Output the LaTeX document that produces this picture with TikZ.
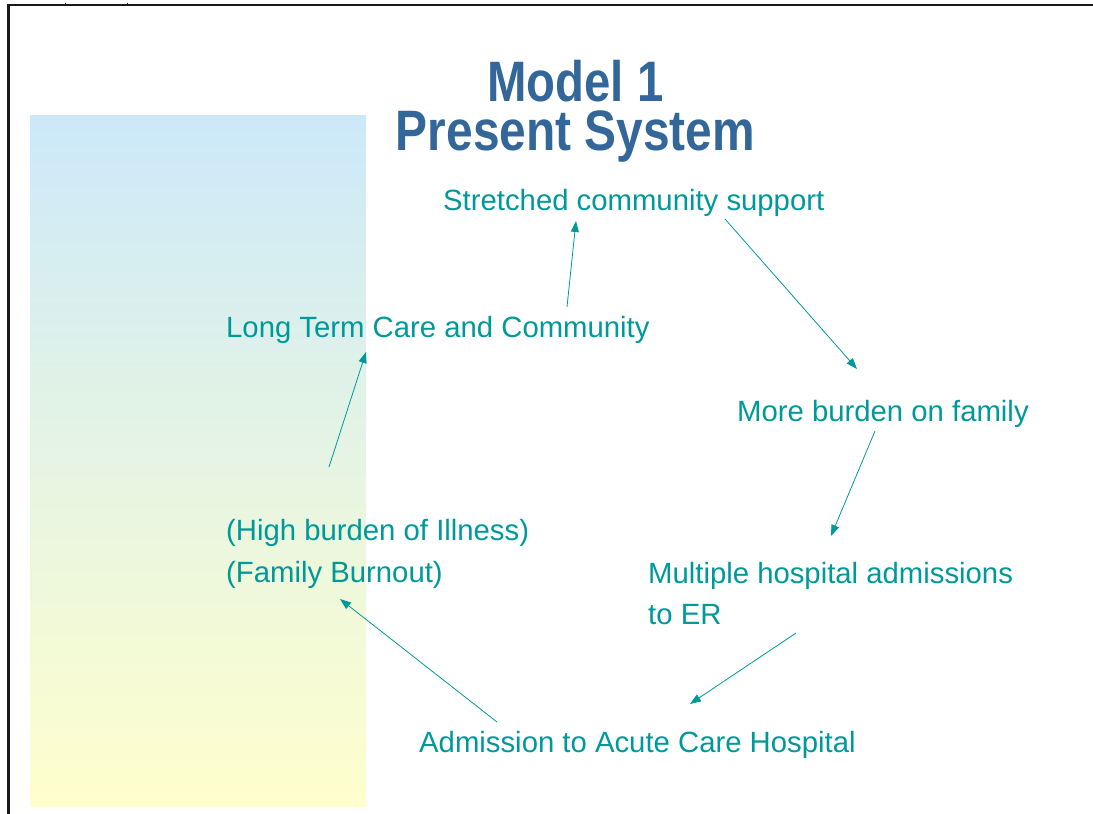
\documentclass[tikz,border=0pt]{standalone}
\usepackage{fontspec}
\usepackage{graphicx}
\setmainfont{Liberation Sans}
\usetikzlibrary{arrows.meta}

\definecolor{flowteal}{RGB}{0,153,153}
\definecolor{titleblue}{RGB}{51,102,153}
\definecolor{panelblue}{RGB}{204,233,250}
\definecolor{panelyellow}{RGB}{255,255,204}
\definecolor{framegray}{RGB}{25,25,25}

\tikzset{
  steplabel/.style={anchor=base west, inner sep=0pt, text=flowteal,
    font=\fontsize{29.3}{35}\selectfont},
  titleblock/.style={anchor=base, inner sep=0pt, text=titleblue, align=center,
    font=\bfseries\fontsize{57}{49}\selectfont},
  flowarrow/.style={draw=flowteal, line width=0.8pt,
    -{Triangle[length=11pt,width=8pt,fill=flowteal]}},
}

\begin{document}
\begin{tikzpicture}[x=1pt,y=-1pt]
  \useasboundingbox (0,0) rectangle (1093,814);

  % frame lines along the top and left edges
  \draw[framegray, line width=2.2pt] (8.5,814) -- (8.5,5) -- (1093,5);
  \draw[framegray, line width=1pt] (65.5,2.5) -- (65.5,5);
  \draw[framegray, line width=1pt] (127,2.5) -- (127,5);

  % shaded side panel
  \shade[top color=panelblue, bottom color=panelyellow]
    (30,115) rectangle (366,806);

  % heading, two tightly set lines (base anchor sits on the last line)
  \node[titleblock] (title) at (575.5,150)
    {\scalebox{0.83}[1]{Model 1}\\\scalebox{0.84}[1]{Present System}};

  % stages of the cycle
  \node[steplabel] (stretched) at (443,210) {Stretched community support};
  \node[steplabel] (family)    at (737,421) {More burden on family};
  \node[steplabel] (multiple)  at (648,583) {Multiple hospital admissions};
  \node[steplabel] (er)        at (648,624) {to ER};
  \node[steplabel] (acute)     at (419,752) {Admission to Acute Care Hospital};
  \node[steplabel] (illness)   at (226,540) {(High burden of Illness)};
  \node[steplabel] (burnout)   at (226,582) {(Family Burnout)};
  \node[steplabel] (ltc)       at (226,337) {Long Term Care and Community};

  % arrow ends
  \coordinate (a1s) at (567,307);   \coordinate (a1e) at (576,221);
  \coordinate (a2s) at (725,219);   \coordinate (a2e) at (857,369);
  \coordinate (a3s) at (875,431);   \coordinate (a3e) at (831,536);
  \coordinate (a4s) at (796,633);   \coordinate (a4e) at (690,704);
  \coordinate (a5s) at (497,722);   \coordinate (a5e) at (340,599);
  \coordinate (a6s) at (329,467);   \coordinate (a6e) at (366,352);

  \draw[flowarrow] (a1s) -- (a1e);
  \draw[flowarrow] (a2s) -- (a2e);
  \draw[flowarrow] (a3s) -- (a3e);
  \draw[flowarrow] (a4s) -- (a4e);
  \draw[flowarrow] (a5s) -- (a5e);
  \draw[flowarrow] (a6s) -- (a6e);
\end{tikzpicture}
\end{document}
